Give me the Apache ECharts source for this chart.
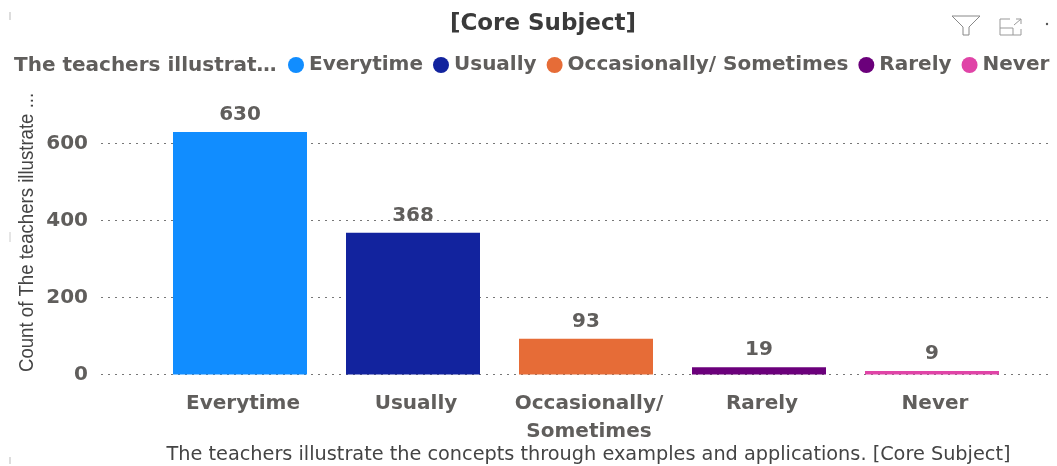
<!DOCTYPE html>
<html><head><meta charset="utf-8">
<style>html,body{margin:0;padding:0;background:#fff}#c{width:1057px;height:466px}</style>
<script src="https://cdn.jsdelivr.net/npm/echarts@6/dist/echarts.min.js"></script>
</head><body><div id="c"></div>
<script>
const categories = ['Everytime','Usually','Occasionally/ Sometimes','Rarely','Never'];
const counts = [630,368,93,19,9];
const colors = ['#118DFF','#12239E','#E66C37','#6B007B','#E044A7'];
const yTicks = [0,200,400,600,800];
const chartTitle = '[Core Subject]';
const legendTitle = 'The teachers illustrat…';
const yName = 'Count of The teachers illustrate ...';
const xName = 'The teachers illustrate the concepts through examples and applications. [Core Subject]';
const F = '"DejaVu Sans"';
const grey = '#605E5C';
const chart = echarts.init(document.getElementById('c'));
const top0 = 66.5, h0 = 308;
chart.setOption({
  animation:false,
  title:[
    {text:chartTitle,left:538,top:8,textAlign:'center',textStyle:{fontFamily:F,fontSize:23,fontWeight:'bold',color:'#3a3a3a'}},
    {text:legendTitle,left:9,top:51,textStyle:{fontFamily:F,fontSize:20,fontWeight:'bold',color:grey}}
  ],
  legend:{left:288,top:55,itemWidth:16,itemHeight:16,itemGap:10,icon:'circle',padding:0,
    data:categories,
    textStyle:{fontFamily:F,fontSize:20,fontWeight:'bold',color:grey}},
  grid:[
    {left:153.5,width:865,top:top0,height:h0,outerBoundsMode:'none'},
    {left:101,width:949,top:top0,height:h0,outerBoundsMode:'none'}
  ],
  xAxis:[
    {gridIndex:0,type:'category',data:categories,axisLine:{show:false},axisTick:{show:false},
     axisLabel:{fontFamily:F,fontSize:20,fontWeight:'bold',color:grey,margin:15,lineHeight:28,interval:0,padding:[0,0,0,6],
       formatter:v=>v.replace('/ ','/\n')},
     name:xName,nameLocation:'center',nameGap:71,nameMoveOverlap:false,
     nameTextStyle:{fontFamily:F,fontSize:19.3,color:'#444',padding:[0,0,0,5]}},
    {gridIndex:1,type:'category',data:categories,show:false}
  ],
  yAxis:[
    {gridIndex:0,type:'value',min:yTicks[0],max:yTicks[4],interval:200,show:false,splitLine:{show:false}},
    {gridIndex:1,type:'value',min:yTicks[0],max:yTicks[4],interval:200,
     axisLine:{show:false},axisTick:{show:false},
     axisLabel:{fontFamily:F,fontSize:20,fontWeight:'bold',color:grey,margin:13,showMaxLabel:false},
     splitLine:{show:true,showMaxLine:false,lineStyle:{type:[2,5],color:'#777',width:1}}}
  ],
  graphic:[
    {type:'text',rotation:Math.PI/2,scaleX:0.93,x:17,y:372,style:{text:yName,fontFamily:'"Liberation Sans"',fontSize:20,fill:'#444',textAlign:'left',textVerticalAlign:'top'}},
    {type:'polyline',shape:{points:[[952,16],[980,16],[969,27],[969,35],[963,35],[963,27],[952,16]]},style:{stroke:'#888',fill:'none',lineWidth:1}},
    {type:'polyline',shape:{points:[[1010,19],[1000,19],[1000,35],[1021,35],[1021,29]]},style:{stroke:'#999',fill:'none',lineWidth:1}},
    {type:'polyline',shape:{points:[[1000,28],[1013,28],[1013,35]]},style:{stroke:'#999',fill:'none',lineWidth:1}},
    {type:'polyline',shape:{points:[[1014,25],[1021,19]]},style:{stroke:'#999',fill:'none',lineWidth:1}},
    {type:'polyline',shape:{points:[[1016,19],[1021,19],[1021,24]]},style:{stroke:'#999',fill:'none',lineWidth:1}},
    {type:'circle',shape:{cx:1047,cy:24,r:1.2},style:{fill:'#555'}},
    {type:'line',shape:{x1:10,y1:12,x2:10,y2:20},style:{stroke:'#bbb',lineWidth:1}},
    {type:'line',shape:{x1:10,y1:232,x2:10,y2:242},style:{stroke:'#ccc',lineWidth:1}},
    {type:'line',shape:{x1:10,y1:457,x2:10,y2:464},style:{stroke:'#bbb',lineWidth:1}}
  ],
  series: categories.map((name,i)=>({
    name,type:'bar',xAxisIndex:0,yAxisIndex:0,barWidth:134,barGap:'-100%',z:3,
    itemStyle:{color:colors[i]},
    label:{show:true,position:'top',distance:7,fontFamily:F,fontSize:20,fontWeight:'bold',color:grey},
    data:categories.map((c,j)=>j===i?counts[i]:null)
  })).concat([{type:'bar',xAxisIndex:1,yAxisIndex:1,data:[],silent:true}])
});
</script></body></html>
